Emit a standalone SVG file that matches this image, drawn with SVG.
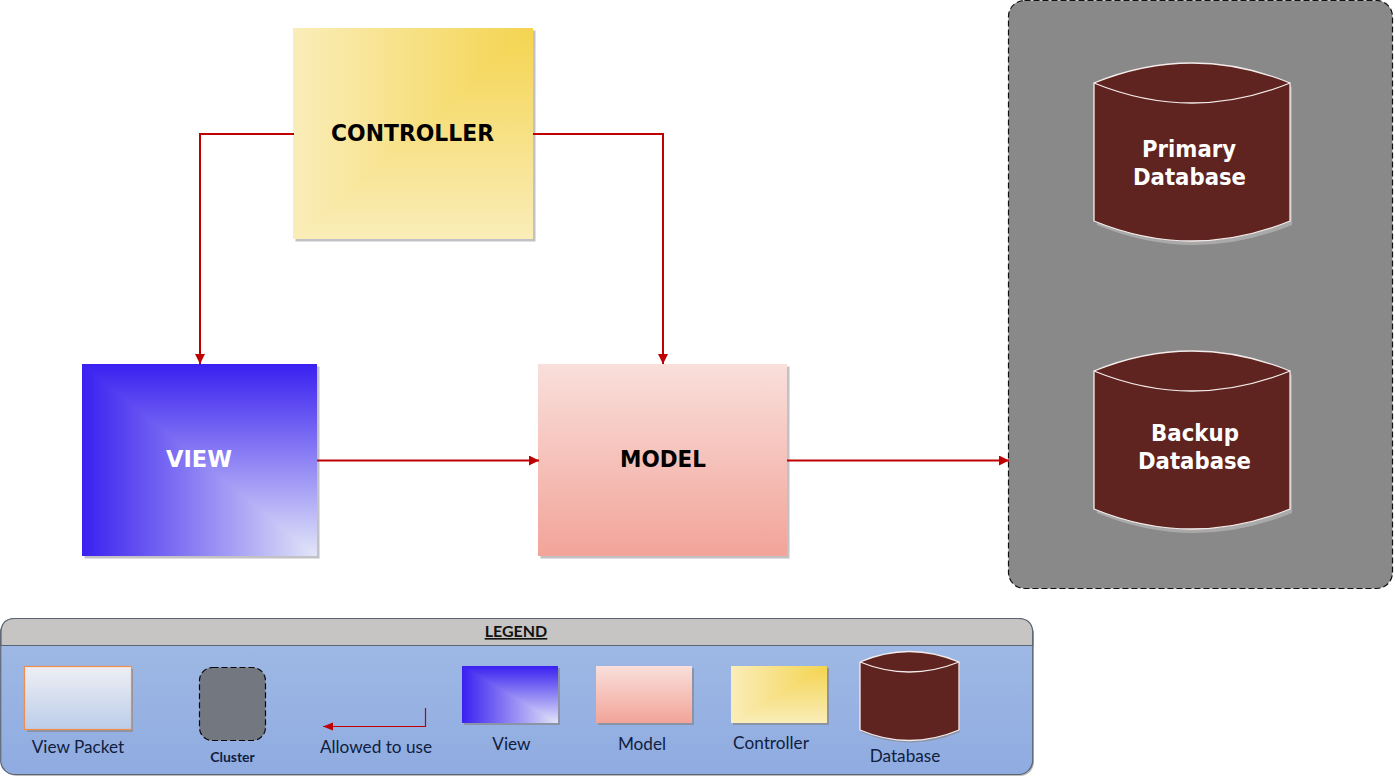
<svg xmlns="http://www.w3.org/2000/svg" width="1395" height="777" viewBox="0 0 1395 777">
<style>
.big{font-family:"DejaVu Sans",Verdana,sans-serif;font-weight:700;text-anchor:middle;font-size:23px}
.leg{font-family:"Lato","Liberation Sans",sans-serif;font-size:17.2px;fill:#10203f;text-anchor:middle}
.conn{fill:none;stroke:#c00000;stroke-width:2}
.db{fill:#5f2320;stroke:#f4ecec;stroke-width:1.3}
.dbl{fill:none;stroke:#f4ecec;stroke-width:1.3}
.shadow{fill:#c2c2c6}
.lshadow{fill:#8b94a6}
</style>
<defs>
<linearGradient id="ctlH" x1="0" y1="0" x2="1" y2="0"><stop offset="0" stop-color="#faedb9"/><stop offset="1" stop-color="#f4d44f"/></linearGradient>
<linearGradient id="ctlV" x1="0" y1="0" x2="0" y2="1"><stop offset="0" stop-color="#f4d44f"/><stop offset="1" stop-color="#faedb9"/></linearGradient>
<linearGradient id="viewH" x1="0" y1="0" x2="1" y2="0"><stop offset="0" stop-color="#3a20f0"/><stop offset="1" stop-color="#e2e6f8"/></linearGradient>
<linearGradient id="viewV" x1="0" y1="0" x2="0" y2="1"><stop offset="0" stop-color="#3a20f0"/><stop offset="1" stop-color="#e2e6f8"/></linearGradient>
<linearGradient id="model" x1="0" y1="0" x2="0" y2="1"><stop offset="0" stop-color="#f9dfdb"/><stop offset="1" stop-color="#f2a499"/></linearGradient>
<linearGradient id="legBody" x1="0" y1="0" x2="0" y2="1"><stop offset="0" stop-color="#a2bbe6"/><stop offset="1" stop-color="#8fabe0"/></linearGradient>
<linearGradient id="packet" x1="0" y1="0" x2="0" y2="1"><stop offset="0" stop-color="#eeeff4"/><stop offset="1" stop-color="#bccde9"/></linearGradient>
<marker id="arr" markerUnits="userSpaceOnUse" markerWidth="11" markerHeight="10" refX="10" refY="5" orient="auto"><path d="M0 0L10 5L0 10z" fill="#c00000"/></marker>
</defs>
<rect width="1395" height="777" fill="#fff"/>

<g id="controller">
<rect class="shadow" x="295.500" y="30.500" width="240" height="211"/>
<rect x="293" y="28" width="240" height="211" fill="url(#ctlH)"/>
<polygon points="533,28 533,239 293,239" fill="url(#ctlV)"/>
<text class="big" x="412.500" y="141" fill="#000" textLength="163" lengthAdjust="spacingAndGlyphs">CONTROLLER</text>
</g>
<g id="view">
<rect class="shadow" x="84.500" y="366.500" width="235" height="192"/>
<rect x="82" y="364" width="235" height="192" fill="url(#viewH)"/>
<polygon points="82,364 317,364 317,556" fill="url(#viewV)"/>
<text class="big" x="199" y="467" fill="#fff" textLength="66" lengthAdjust="spacingAndGlyphs">VIEW</text>
</g>
<g id="model">
<rect class="shadow" x="540.500" y="366.500" width="249" height="192"/>
<rect x="538" y="364" width="249" height="192" fill="url(#model)"/>
<text class="big" x="663" y="467" fill="#000" textLength="86" lengthAdjust="spacingAndGlyphs">MODEL</text>
</g>
<g id="cluster">
<rect x="1008.500" y="0.500" width="384" height="588" rx="16" fill="#898989" stroke="#111" stroke-width="1.200" stroke-dasharray="6 3"/>
</g>
<g id="primary-database">
<path d="M1095 84Q1192 43 1290 84V222Q1192 262 1095 222Z" fill="#a9a9a9" transform="translate(2 3)"/>
<path class="db" d="M1094 83Q1192 43 1290 83V221Q1192 261 1094 221Z"/>
<path class="dbl" d="M1094 83Q1192 123 1290 83"/>
<text class="big" x="1189" y="157" fill="#fff" textLength="94" lengthAdjust="spacingAndGlyphs">Primary</text>
<text class="big" x="1189.500" y="185" fill="#fff" textLength="113" lengthAdjust="spacingAndGlyphs">Database</text>
</g>
<g id="backup-database">
<path d="M1095 372Q1192 331 1290 372V510Q1192 550 1095 510Z" fill="#a9a9a9" transform="translate(2 3)"/>
<path class="db" d="M1094 371Q1192 331 1290 371V509Q1192 549 1094 509Z"/>
<path class="dbl" d="M1094 371Q1192 411 1290 371"/>
<text class="big" x="1195" y="441" fill="#fff" textLength="88" lengthAdjust="spacingAndGlyphs">Backup</text>
<text class="big" x="1194.500" y="469" fill="#fff" textLength="113" lengthAdjust="spacingAndGlyphs">Database</text>
</g>

<g id="connectors">
<path class="conn" marker-end="url(#arr)" d="M294 134H200V364"/>
<path class="conn" marker-end="url(#arr)" d="M533 134H663V364"/>
<path class="conn" marker-end="url(#arr)" d="M317 460.500H539"/>
<path class="conn" marker-end="url(#arr)" d="M787 460.500H1009"/>
</g>

<g id="legend">
<rect x="3" y="621" width="1031" height="155" rx="14" fill="#bcbcbc"/>
<rect x="0.700" y="618.500" width="1032" height="156" rx="14" fill="url(#legBody)" stroke="#5a6472" stroke-width="1.200"/>
<path d="M1 645.500V633Q1 618.500 15 618.500H1018Q1032.700 618.500 1032.700 633V645.500Z" fill="#c6c5c3" stroke="#5a6472" stroke-width="1.200"/>
<text x="516" y="637" font-family="Lato,'Liberation Sans',sans-serif" font-size="16" font-weight="700" text-decoration="underline" fill="#111" text-anchor="middle">LEGEND</text>
</g>
<g id="legend-view-packet">
<rect class="lshadow" x="27" y="669" width="106" height="63"/>
<rect x="24.500" y="666.500" width="107" height="63" fill="url(#packet)" stroke="#ef8e4d" stroke-width="1.200"/>
<text class="leg" x="78" y="753">View Packet</text>
</g>
<g id="legend-cluster">
<rect x="199.500" y="667.500" width="66" height="73" rx="13" fill="#727780" stroke="#0a0a0a" stroke-width="1.200" stroke-dasharray="6 3"/>
<text x="232.500" y="762" font-family="Lato,'Liberation Sans',sans-serif" font-size="14" font-weight="700" fill="#10203f" text-anchor="middle">Cluster</text>
</g>
<g id="legend-arrow">
<path class="conn" style="stroke-width:1.200" d="M425.500 708V726.500H323"/>
<path d="M323 726.500L333 722.500V730.500Z" fill="#c00000"/>
<text class="leg" x="376" y="753">Allowed to use</text>
</g>
<g id="legend-view">
<rect class="lshadow" x="464" y="668" width="96" height="57"/>
<rect x="462" y="666" width="96" height="57" fill="url(#viewH)"/>
<polygon points="462,666 558,666 558,723" fill="url(#viewV)"/>
<text class="leg" x="511.500" y="750">View</text>
</g>
<g id="legend-model">
<rect class="lshadow" x="598" y="668" width="96" height="57"/>
<rect x="596" y="666" width="96" height="57" fill="url(#model)"/>
<text class="leg" x="642" y="750">Model</text>
</g>
<g id="legend-controller">
<rect class="lshadow" x="733" y="668" width="96" height="57"/>
<rect x="731" y="666" width="96" height="57" fill="url(#ctlH)"/>
<polygon points="827,666 827,723 731,723" fill="url(#ctlV)"/>
<text class="leg" x="771" y="749">Controller</text>
</g>
<g id="legend-database">
<path d="M860 662Q909 641 959 662V730Q909 751 860 730Z" fill="#8b94a6" transform="translate(1 2)"/>
<path class="db" d="M860 662Q909 641 959 662V730Q909 751 860 730Z"/>
<path class="dbl" d="M860 662Q909 682 959 662"/>
<text class="leg" x="905" y="762">Database</text>
</g>
</svg>
